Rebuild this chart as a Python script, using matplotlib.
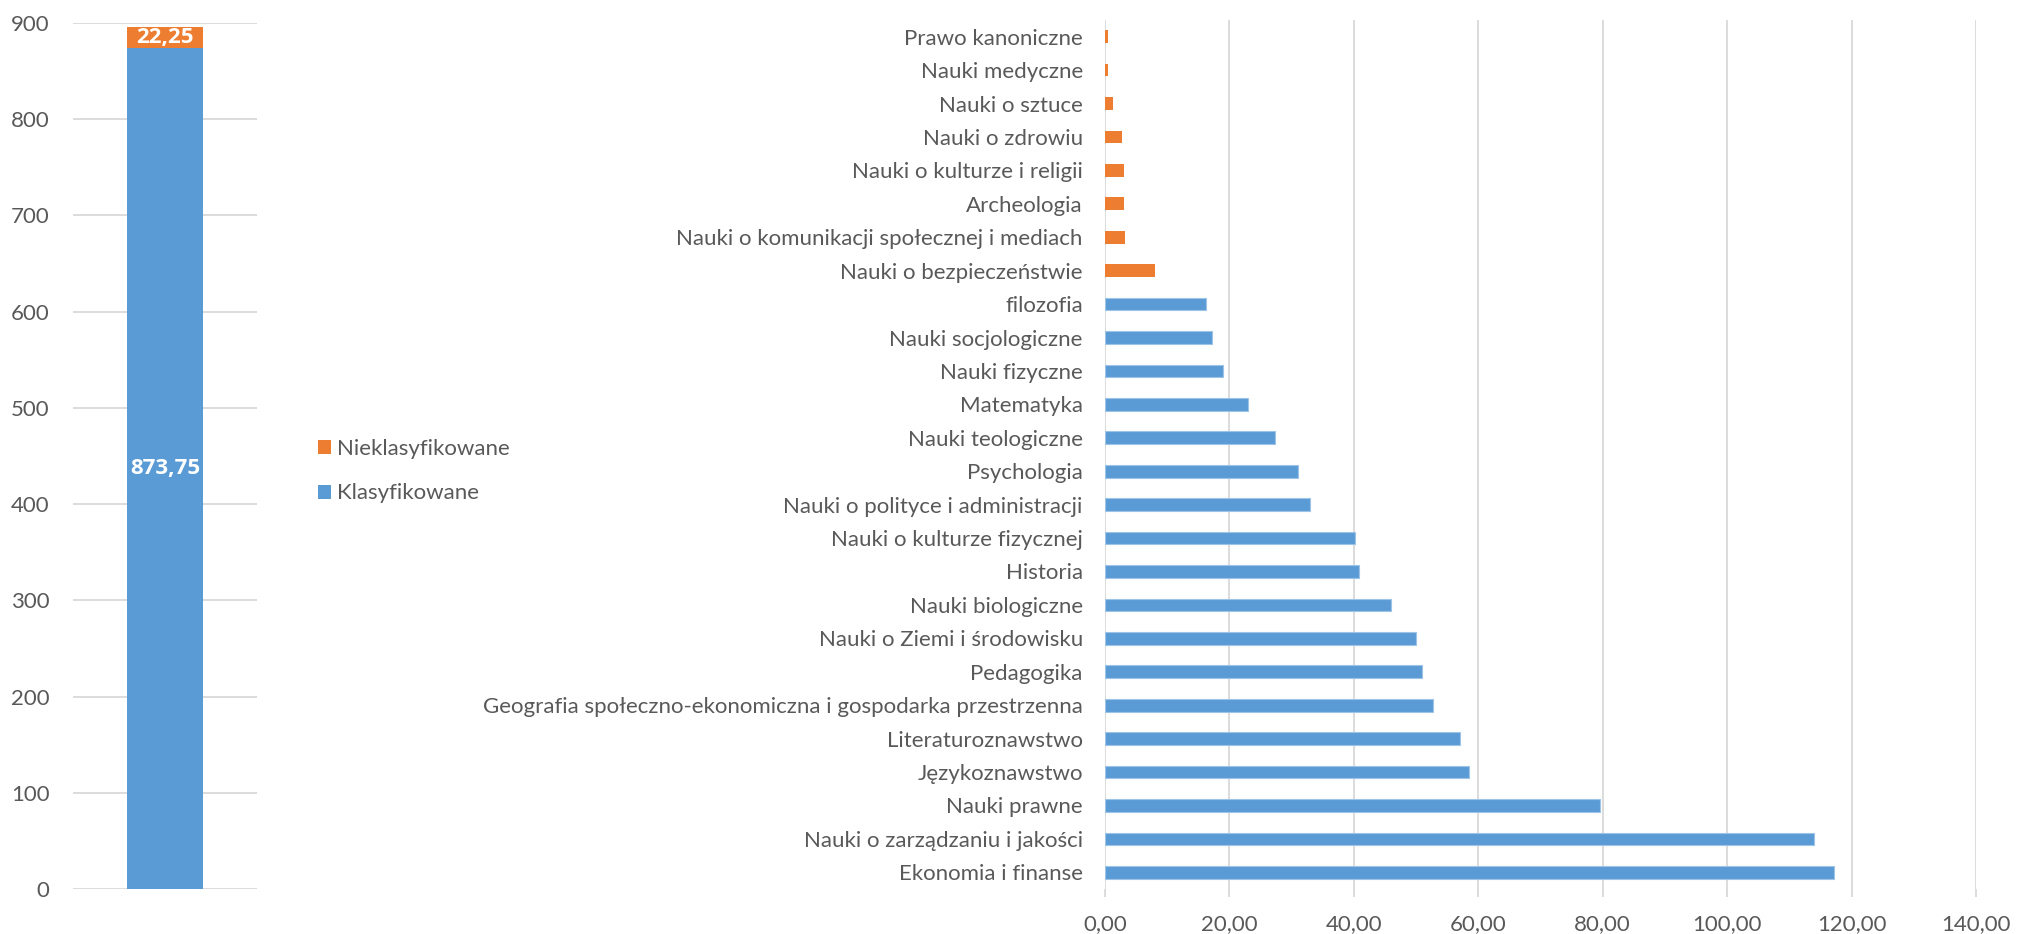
import matplotlib
matplotlib.use("Agg")
import matplotlib.pyplot as plt
from matplotlib.patches import Patch
from matplotlib.ticker import FuncFormatter

plt.rcParams['font.family'] = ['Lato', 'DejaVu Sans']

# ---- data ----
categories = [
    "Ekonomia i finanse",
    "Nauki o zarządzaniu i jakości",
    "Nauki prawne",
    "Językoznawstwo",
    "Literaturoznawstwo",
    "Geografia społeczno-ekonomiczna i gospodarka przestrzenna",
    "Pedagogika",
    "Nauki o Ziemi i środowisku",
    "Nauki biologiczne",
    "Historia",
    "Nauki o kulturze fizycznej",
    "Nauki o polityce i administracji",
    "Psychologia",
    "Nauki teologiczne",
    "Matematyka",
    "Nauki fizyczne",
    "Nauki socjologiczne",
    "filozofia",
    "Nauki o bezpieczeństwie",
    "Nauki o komunikacji społecznej i mediach",
    "Archeologia",
    "Nauki o kulturze i religii",
    "Nauki o zdrowiu",
    "Nauki o sztuce",
    "Nauki medyczne",
    "Prawo kanoniczne",
]
klasyfikowane = [117.25, 114.0, 79.5, 58.5, 57.0, 52.75, 51.0, 50.0, 46.0, 40.75,
                 40.25, 33.0, 31.0, 27.25, 23.0, 19.0, 17.25, 16.25,
                 0, 0, 0, 0, 0, 0, 0, 0]
nieklasyfikowane = [0] * 18 + [8.0, 3.25, 3.0, 3.0, 2.75, 1.25, 0.5, 0.5]

total_klas = 873.75
total_nieklas = 22.25
left_ticks = list(range(0, 1000, 100))
right_ticks = list(range(0, 160, 20))

series_names = ["Nieklasyfikowane", "Klasyfikowane"]

BLUE = "#5B9BD5"
ORANGE = "#ED7D31"
GRID = "#D9D9D9"
TXT = "#595959"
FS = 16

W, H = 2017, 934
fig = plt.figure(figsize=(W / 100, H / 100), dpi=100)

# ---- left stacked column ----
axl = fig.add_axes([73 / W, 1 - 889 / H, (257 - 73) / W, (889 - 23) / H])
axl.bar([0], [total_klas], width=0.41, color=BLUE, zorder=3)
axl.bar([0], [total_nieklas], bottom=[total_klas], width=0.41, color=ORANGE, zorder=3)
axl.set_xlim(-0.5, 0.5)
axl.set_ylim(0, 900)
axl.set_yticks(left_ticks)
axl.set_xticks([])
axl.yaxis.grid(True, color=GRID, linewidth=1.3, zorder=0)
axl.set_axisbelow(True)
for s in axl.spines.values():
    s.set_visible(False)
axl.tick_params(axis='y', length=0, pad=17, labelsize=FS, labelcolor=TXT)
axl.text(0, total_klas / 2, "873,75", ha='center', va='center', color='white',
         fontsize=FS, fontweight='bold', family=['Open Sans', 'DejaVu Sans'], zorder=4)
axl.text(0, total_klas + total_nieklas / 2, "22,25", ha='center', va='center',
         color='white', fontsize=FS, fontweight='bold',
         family=['Open Sans', 'DejaVu Sans'], zorder=4)

# ---- legend ----
handles = [Patch(facecolor=ORANGE, edgecolor='none'), Patch(facecolor=BLUE, edgecolor='none')]
fig.legend(handles, series_names, loc='center left',
           bbox_to_anchor=(298 / W, 1 - 471 / H), frameon=False,
           fontsize=FS, labelcolor=TXT, handlelength=0.6, handleheight=0.6,
           handletextpad=0.25, labelspacing=1.12)

# ---- right horizontal bars ----
axr = fig.add_axes([1105 / W, 1 - 889 / H, (1976 - 1105) / W, (889 - 20) / H])
y = list(range(len(categories)))
axr.barh(y, klasyfikowane, height=0.38, color=BLUE, edgecolor="#9DC3E6",
         linewidth=0.8, zorder=3)
axr.barh(y, nieklasyfikowane, height=0.38, color=ORANGE, zorder=3)
axr.set_ylim(-0.5, len(categories) - 0.5)
axr.set_xlim(0, 140)
axr.set_xticks(right_ticks)
axr.xaxis.set_major_formatter(FuncFormatter(lambda v, p: f"{v:.2f}".replace(".", ",")))
axr.set_yticks(y)
axr.set_yticklabels(categories)
axr.xaxis.grid(True, color=GRID, linewidth=1.3, zorder=0)
axr.set_axisbelow(True)
for s in axr.spines.values():
    s.set_visible(False)
axr.tick_params(axis='y', length=0, pad=16, labelsize=FS, labelcolor=TXT)
axr.tick_params(axis='x', length=6, width=1.3, color=GRID, pad=12,
                labelsize=FS, labelcolor=TXT)

fig.savefig("out.png", dpi=100)
